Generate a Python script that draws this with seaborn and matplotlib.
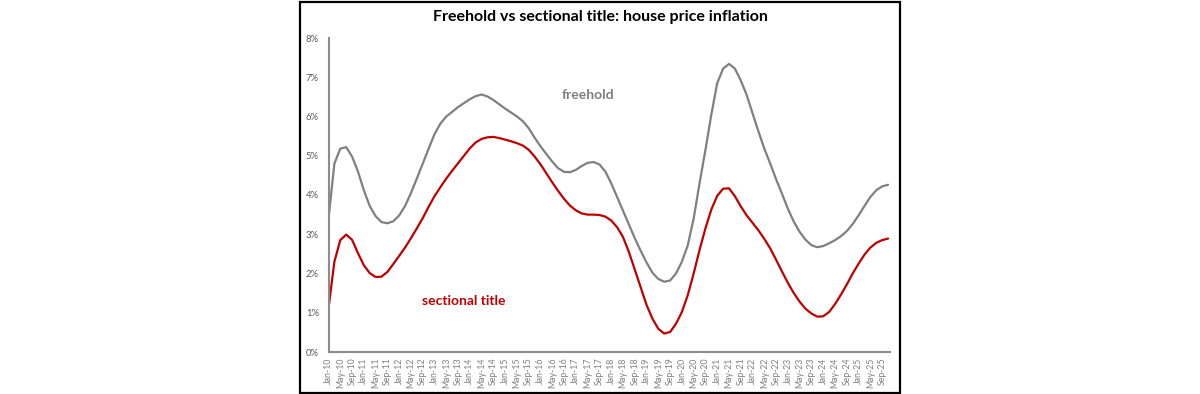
import pandas as pd
import matplotlib.pyplot as plt
import matplotlib.patches as patches
import seaborn as sns

# Bi-monthly readings, Jan-10 to Nov-25 (% y/y)
dates = pd.date_range("2010-01-01", periods=96, freq="2MS")

freehold = [
    3.39, 4.80, 5.18, 5.22, 4.98, 4.60, 4.12, 3.72, 3.46, 3.31, 3.28, 3.33,
    3.48, 3.72, 4.05, 4.42, 4.80, 5.18, 5.55, 5.82, 6.00, 6.12, 6.24, 6.34,
    6.44, 6.52, 6.56, 6.51, 6.42, 6.31, 6.20, 6.10, 6.00, 5.88, 5.70, 5.46,
    5.24, 5.04, 4.85, 4.68, 4.59, 4.58, 4.64, 4.74, 4.82, 4.84, 4.78, 4.60,
    4.30, 3.95, 3.60, 3.25, 2.90, 2.58, 2.28, 2.02, 1.86, 1.79, 1.82, 2.00,
    2.30, 2.72, 3.40, 4.30, 5.15, 6.05, 6.85, 7.22, 7.34, 7.22, 6.92, 6.55,
    6.08, 5.62, 5.18, 4.80, 4.40, 4.03, 3.65, 3.32, 3.06, 2.86, 2.72, 2.67,
    2.70, 2.77, 2.85, 2.95, 3.08, 3.26, 3.48, 3.72, 3.95, 4.12, 4.22, 4.26,
]

sectional = [
    1.11, 2.30, 2.85, 2.99, 2.86, 2.52, 2.21, 2.01, 1.91, 1.92, 2.04, 2.24,
    2.45, 2.66, 2.90, 3.15, 3.41, 3.70, 3.97, 4.20, 4.42, 4.62, 4.81, 5.00,
    5.19, 5.34, 5.43, 5.47, 5.48, 5.45, 5.41, 5.37, 5.32, 5.26, 5.15, 4.98,
    4.78, 4.55, 4.32, 4.10, 3.90, 3.73, 3.61, 3.53, 3.50, 3.50, 3.49, 3.45,
    3.35, 3.18, 2.93, 2.55, 2.10, 1.65, 1.20, 0.85, 0.59, 0.47, 0.51, 0.72,
    1.02, 1.45, 2.00, 2.60, 3.15, 3.63, 3.98, 4.16, 4.17, 3.97, 3.71, 3.48,
    3.29, 3.10, 2.88, 2.64, 2.35, 2.05, 1.76, 1.50, 1.28, 1.10, 0.98, 0.90,
    0.91, 1.02, 1.22, 1.46, 1.72, 2.00, 2.25, 2.48, 2.66, 2.78, 2.85, 2.89,
]

tick_dates = pd.date_range("2010-01-01", "2025-09-01", freq="4MS")
y_ticks = [0, 1, 2, 3, 4, 5, 6, 7, 8]

def month_idx(d):
    return (d.year - 2010) * 12 + (d.month - 1)

df = pd.DataFrame({
    "m": [month_idx(d) for d in dates],
    "freehold": freehold,
    "sectional title": sectional,
})
long_df = df.melt(id_vars="m", var_name="series", value_name="value")

sns.set_style("white")
plt.rcParams['font.family'] = ['Lato', 'DejaVu Sans']

fig = plt.figure(figsize=(12, 3.94), dpi=100)
ax = fig.add_axes([328.5 / 1200, 42 / 394, 561 / 1200, 314 / 394])

sns.lineplot(data=long_df, x="m", y="value", hue="series",
             palette={"freehold": "#808080", "sectional title": "#C00000"},
             linewidth=1.6, legend=False, ax=ax)

ax.set_xlim(0, 190.5)
ax.set_ylim(0, 8)
ax.set_xticks([month_idx(d) for d in tick_dates])
ax.set_xticklabels([d.strftime("%b-%y") for d in tick_dates], rotation=90,
                   fontsize=6.3, color="#7f7f7f")
ax.set_yticks(y_ticks)
ax.set_yticklabels([f"{v}%" for v in y_ticks], fontsize=6.8, color="#595959")
ax.tick_params(axis="both", length=0, pad=4)
ax.tick_params(axis="y", pad=7)
ax.set_xlabel("")
ax.set_ylabel("")
for s in ["top", "right"]:
    ax.spines[s].set_visible(False)
for s in ["left", "bottom"]:
    ax.spines[s].set_color("#8c8c8c")
    ax.spines[s].set_linewidth(1.5)

# series labels
ax.text(month_idx(pd.Timestamp("2017-05-01")), 6.55, "freehold", color="#7f7f7f",
        fontsize=10, fontweight="bold", ha="center", va="center")
ax.text(month_idx(pd.Timestamp("2013-11-01")), 1.29, "sectional title", color="#C00000",
        fontsize=10, fontweight="bold", ha="center", va="center")

fig.text(0.5, 1 - 17 / 394, "Freehold vs sectional title: house price inflation",
         ha="center", va="center", fontsize=11.5, fontweight="bold", color="black")

# outer frame
fig.patches.append(patches.Rectangle((299.5 / 1200, 1.5 / 394), 600.5 / 1200, 391 / 394,
                                     transform=fig.transFigure, fill=False,
                                     edgecolor="black", linewidth=1.6))

fig.savefig("out.png", dpi=100)
